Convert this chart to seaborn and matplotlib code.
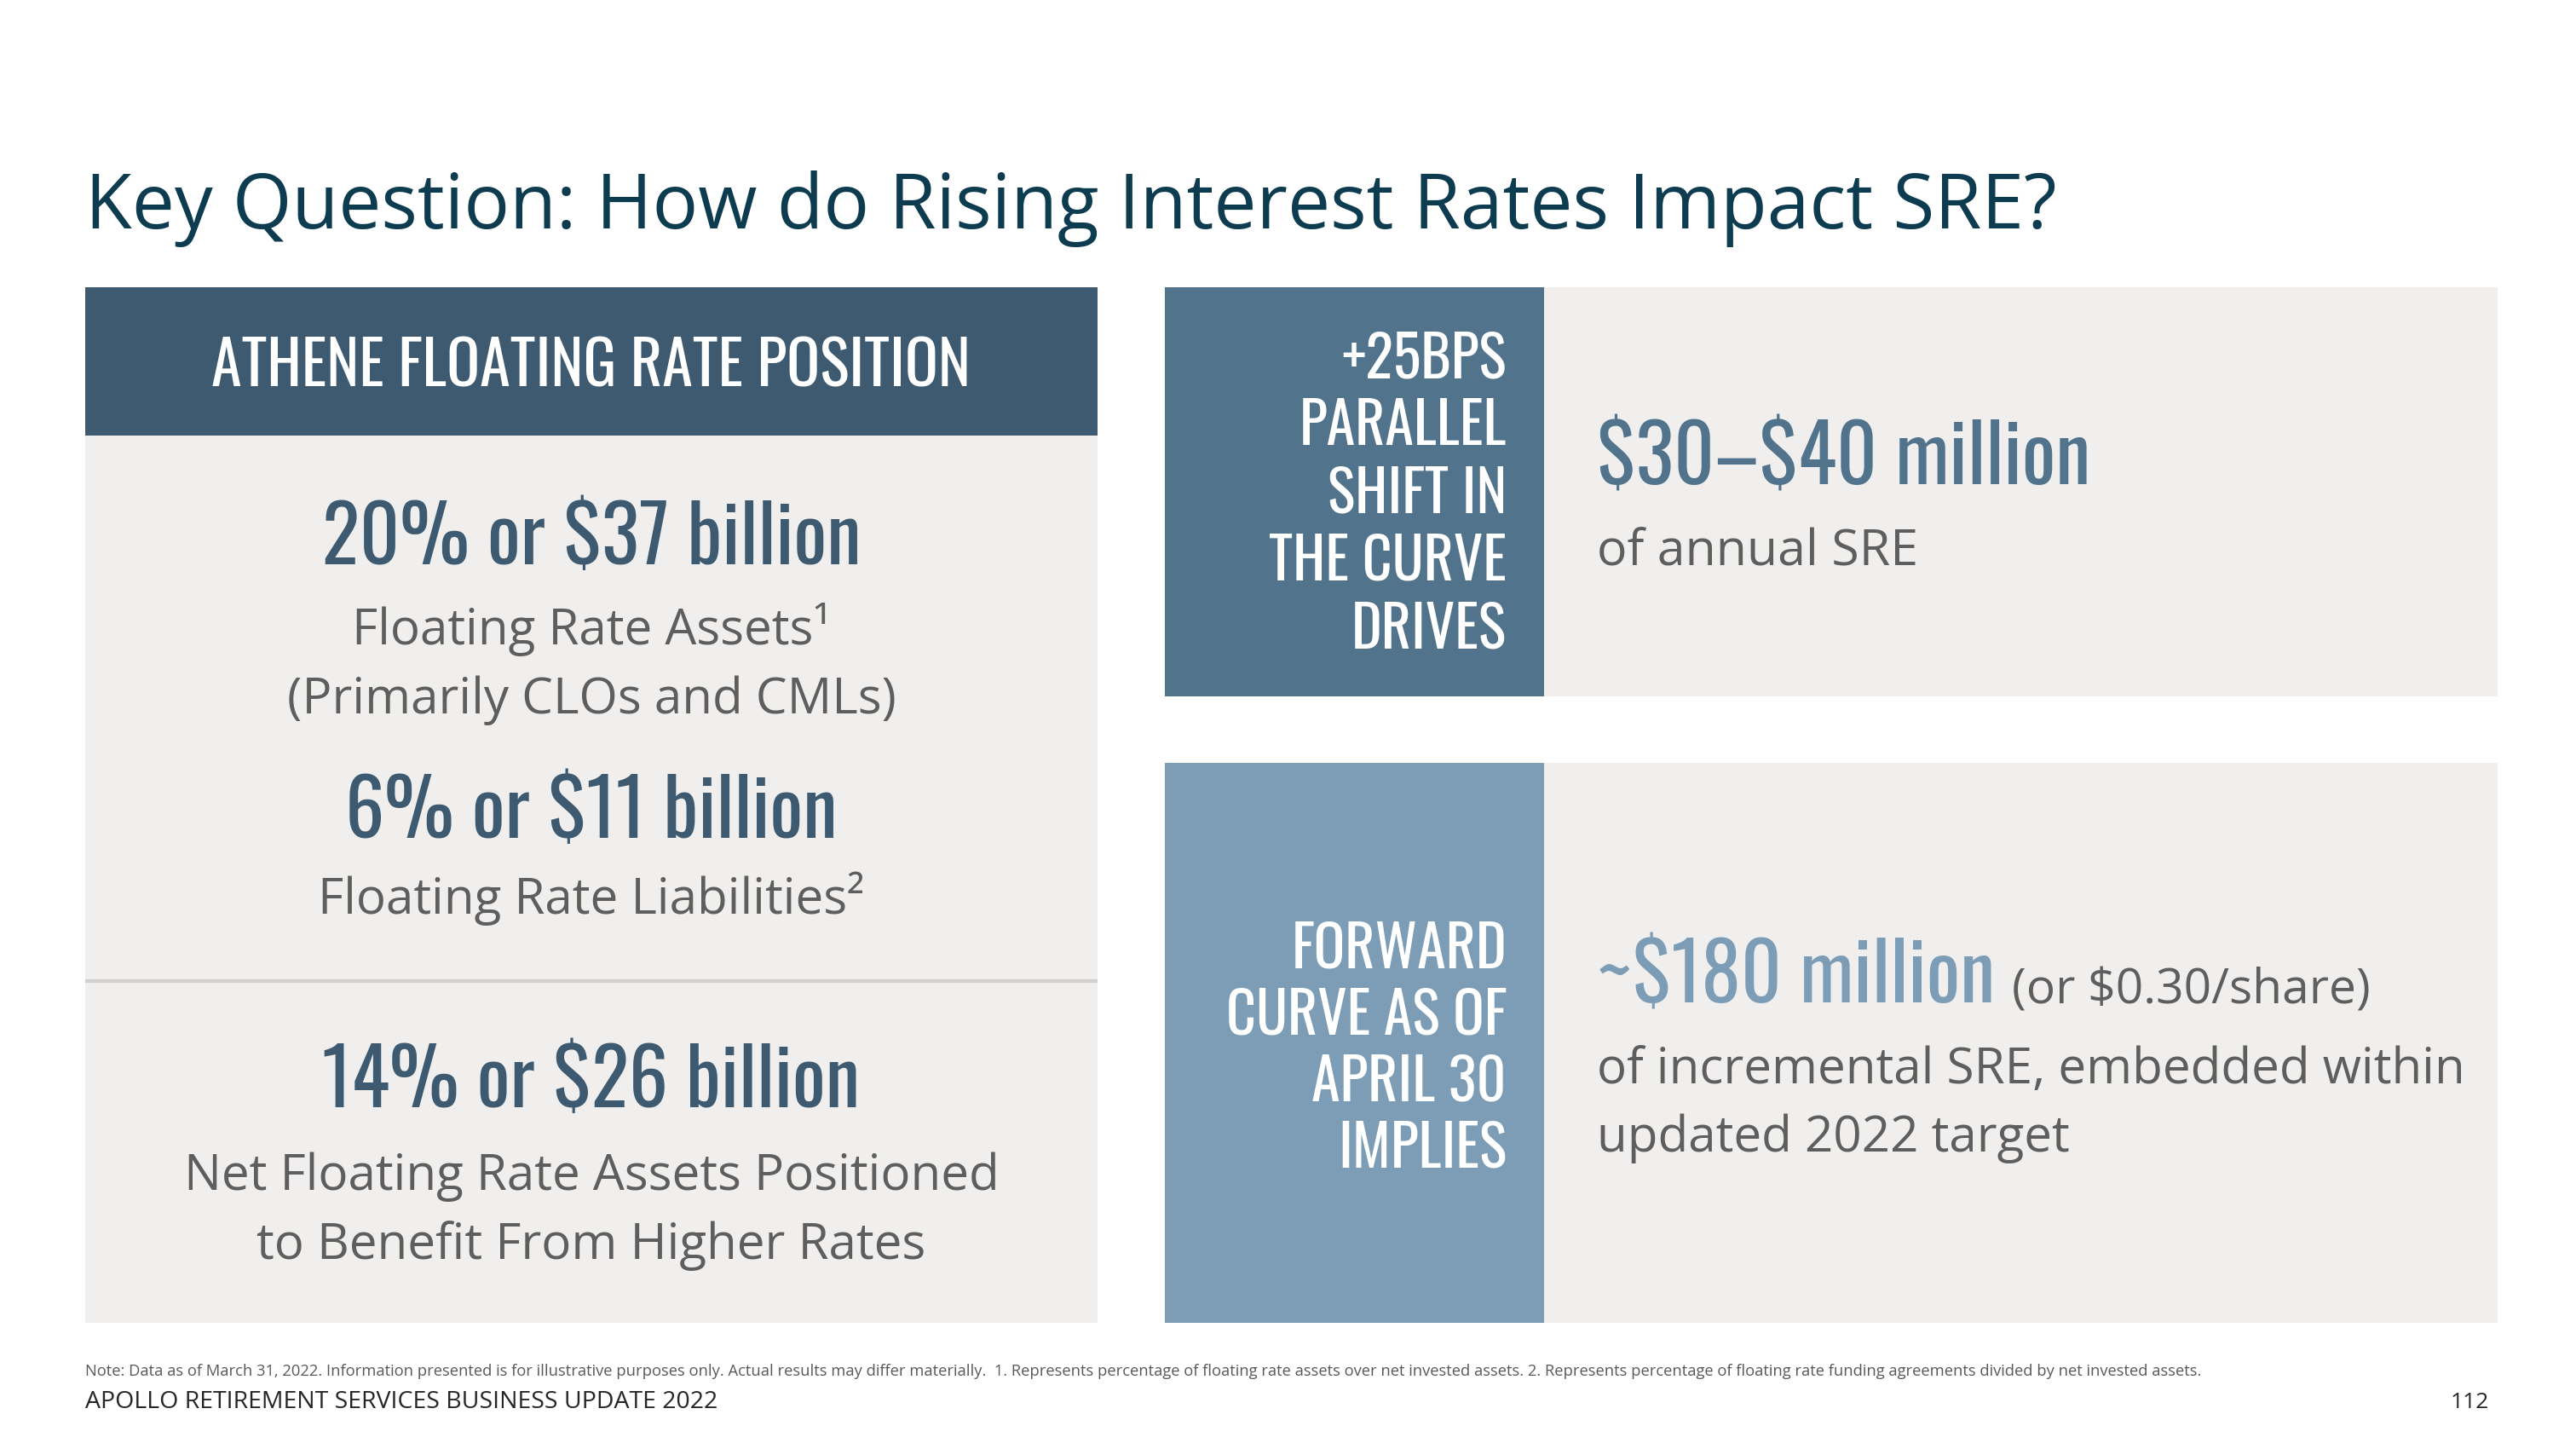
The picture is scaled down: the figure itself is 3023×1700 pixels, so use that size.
import matplotlib
matplotlib.use("Agg")
import matplotlib.pyplot as plt
from matplotlib.patches import Rectangle
from matplotlib import font_manager
import seaborn as sns

# --- data ---
float_pct = [20, 6, 14]
float_bn = [37, 11, 26]
float_desc = [["Floating Rate Assets\u00b9", "(Primarily CLOs and CMLs)"],
              ["Floating Rate Liabilities\u00b2"],
              ["Net Floating Rate Assets Positioned", "to Benefit From Higher Rates"]]
sre_low, sre_high = 30, 40
sre_fwd = 180
sre_per_share = 0.30
label_top = ["+25BPS", "PARALLEL", "SHIFT IN", "THE CURVE", "DRIVES"]
label_bot = ["FORWARD", "CURVE AS OF", "APRIL 30", "IMPLIES"]
page_no = 112

# --- fonts ---
installed = {f.name for f in font_manager.fontManager.ttflist}
def pick(*names):
    return [n for n in names if n in installed] + ["DejaVu Sans"]

sns.set_theme(style="white")
BODY = pick("Selawik", "Open Sans", "Noto Sans")
COND = pick("Oswald", "Liberation Sans Narrow")
plt.rcParams['font.family'] = BODY
plt.rcParams['text.parse_math'] = False

# colours
TITLE_C = "#0d3b4f"
DARK = "#3e5a70"
MID = "#51738b"
LIGHT = "#7c9db5"
PANEL = "#f0efee"
GREY_TXT = "#5e5e5e"

fig = plt.figure(figsize=(30.23, 17), dpi=100)
ax = fig.add_axes([0, 0, 1, 1])
ax.set_xlim(0, 3023)
ax.set_ylim(1700, 0)
ax.axis("off")

def box(x0, y0, x1, y1, c):
    ax.add_patch(Rectangle((x0, y0), x1 - x0, y1 - y0, facecolor=c, edgecolor="none"))

# title
ax.text(100, 268, "Key Question: How do Rising Interest Rates Impact SRE?",
        fontsize=64.4, color=TITLE_C, va="baseline", ha="left")

# ---- left panel ----
box(100, 337, 1288, 511, DARK)
box(100, 511, 1288, 1552, PANEL)
ax.plot([100, 1288], [1151, 1151], color="#d0cfcd", lw=3, solid_capstyle="butt")
ax.text(694, 453, "ATHENE FLOATING RATE POSITION", family=COND, fontsize=52,
        color="white", ha="center", va="baseline")

cx = 694
big_y = [662, 983, 1299]
desc_y = [[756, 837], [1072], [1396, 1477]]
for p, b, lines, by, dys in zip(float_pct, float_bn, float_desc, big_y, desc_y):
    ax.text(cx, by, f"{p}% or ${b} billion", family=COND, fontsize=66,
            color=DARK, ha="center", va="baseline")
    for ln, dy in zip(lines, dys):
        ax.text(cx, dy, ln, fontsize=42, color=GREY_TXT, ha="center", va="baseline")

# ---- right top ----
box(1367, 337, 1812, 817, MID)
box(1812, 337, 2931, 817, PANEL)
for i, ln in enumerate(label_top):
    ax.text(1768, 443 + i * 79.3, ln, family=COND, fontsize=49, color="white",
            ha="right", va="baseline")
ax.text(1874, 568, f"${sre_low}\u2013${sre_high} million", family=COND, fontsize=67,
        color=MID, ha="left", va="baseline")
ax.text(1874, 663, "of annual SRE", fontsize=42.5, color=GREY_TXT, ha="left", va="baseline")

# ---- right bottom ----
box(1367, 895, 1812, 1552, LIGHT)
box(1812, 895, 2931, 1552, PANEL)
for i, ln in enumerate(label_bot):
    ax.text(1768, 1136 + i * 77.7, ln, family=COND, fontsize=49, color="white",
            ha="right", va="baseline")
t = ax.text(1874, 1177, f"~${sre_fwd} million", family=COND, fontsize=67,
            color=LIGHT, ha="left", va="baseline")
fig.canvas.draw()
bb = t.get_window_extent().transformed(ax.transData.inverted())
ax.text(bb.x1 + 20, 1177, f"(or ${sre_per_share:.2f}/share)", fontsize=41,
        color=GREY_TXT, ha="left", va="baseline")
ax.text(1874, 1271, "of incremental SRE, embedded within", fontsize=42,
        color=GREY_TXT, ha="left", va="baseline")
ax.text(1874, 1351, "updated 2022 target", fontsize=42, color=GREY_TXT,
        ha="left", va="baseline")

# ---- footer ----
ax.text(100, 1614, "Note: Data as of March 31, 2022. Information presented is for illustrative purposes only. "
        "Actual results may differ materially.  1. Represents percentage of floating rate assets over net "
        "invested assets. 2. Represents percentage of floating rate funding agreements divided by net invested assets.",
        fontsize=13.2, color="#595959", ha="left", va="baseline")
ax.text(100, 1652, "APOLLO RETIREMENT SERVICES BUSINESS UPDATE 2022", fontsize=20.5,
        color="#262626", ha="left", va="baseline")
ax.text(2921, 1652, str(page_no), fontsize=19, color="#262626", ha="right", va="baseline")

fig.savefig("out.png", dpi=100, facecolor="white")
